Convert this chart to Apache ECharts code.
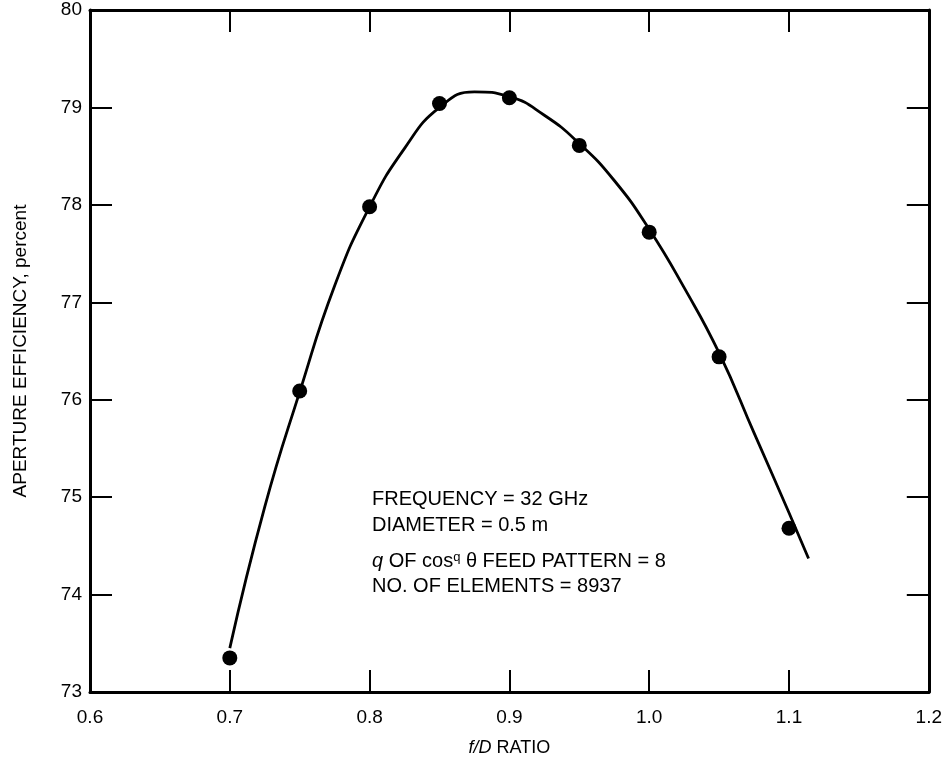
<!DOCTYPE html>
<html>
<head>
<meta charset="utf-8">
<script src="https://cdn.jsdelivr.net/npm/echarts@6/dist/echarts.min.js"></script>
<style>
  html, body { margin: 0; padding: 0; background: #fff; }
  #chart { width: 945px; height: 767px; }
</style>
</head>
<body>
<div id="chart"></div>
<script>
// measured points (f/D ratio vs aperture efficiency, %)
const ratioPoints = [0.70, 0.75, 0.80, 0.85, 0.90, 0.95, 1.00, 1.05, 1.10];
const efficiencyPoints = [73.35, 76.09, 77.98, 79.04, 79.10, 78.61, 77.72, 76.44, 74.68];

// fitted curve
const curveRatio = [0.700, 0.725, 0.750, 0.775, 0.800, 0.825, 0.850, 0.875, 0.900,
                    0.925, 0.950, 0.975, 1.000, 1.025, 1.050, 1.075, 1.100, 1.114];
const curveEff = [73.45, 74.90, 76.08, 77.17, 77.98, 78.58, 79.00, 79.16, 79.11,
                  78.92, 78.63, 78.25, 77.75, 77.15, 76.48, 75.66, 74.84, 74.37];

const xTicks = { min: 0.6, max: 1.2, step: 0.1 };
const yTicks = { min: 73, max: 80, step: 1 };

const notes = [
  'FREQUENCY = 32 GHz',
  'DIAMETER = 0.5 m',
  '{i|q} OF cos{s|q} \u03b8 FEED PATTERN = 8',
  'NO. OF ELEMENTS = 8937'
];
const noteY = [500, 526, 562, 587];

const font = 'Liberation Sans, Arial, Helvetica, sans-serif';
const chart = echarts.init(document.getElementById('chart'));

function xAxisCfg(pos, showLabel) {
  return {
    type: 'value', position: pos,
    min: xTicks.min, max: xTicks.max, interval: xTicks.step,
    axisLine: { show: true, onZero: false, lineStyle: { color: '#000', width: 3 } },
    axisTick: { show: true, inside: true, length: 22, lineStyle: { color: '#000', width: 2 } },
    axisLabel: {
      show: showLabel, color: '#000', fontSize: 19, fontFamily: font, margin: 16,
      formatter: v => v.toFixed(1)
    },
    splitLine: { show: false }
  };
}
function yAxisCfg(pos, showLabel) {
  return {
    type: 'value', position: pos,
    min: yTicks.min, max: yTicks.max, interval: yTicks.step,
    axisLine: { show: true, onZero: false, lineStyle: { color: '#000', width: 3 } },
    axisTick: { show: true, inside: true, length: 22, lineStyle: { color: '#000', width: 2 } },
    axisLabel: { show: showLabel, color: '#000', fontSize: 19, fontFamily: font, margin: 8 },
    splitLine: { show: false }
  };
}

const xBottom = xAxisCfg('bottom', true);
xBottom.name = '{i|f/D} RATIO';
xBottom.nameLocation = 'middle';
xBottom.nameGap = 47;
xBottom.nameTextStyle = {
  color: '#000', fontSize: 18, fontFamily: font,
  rich: { i: { fontStyle: 'italic', fontSize: 18, fontFamily: font, color: '#000' } }
};

const yLeft = yAxisCfg('left', true);
yLeft.name = 'APERTURE EFFICIENCY, percent';
yLeft.nameLocation = 'middle';
yLeft.nameRotate = 90;
yLeft.nameGap = 60;
yLeft.nameTextStyle = { color: '#000', fontSize: 19, fontFamily: font };

const option = {
  animation: false,
  backgroundColor: '#fff',
  grid: { left: 90, right: 9, top: 10, bottom: 75, containLabel: false },
  xAxis: [xBottom, xAxisCfg('top', false)],
  yAxis: [yLeft, yAxisCfg('right', false)],
  series: [
    {
      type: 'line',
      data: curveRatio.map((r, i) => [r, curveEff[i]]),
      smooth: 0.5,
      showSymbol: false,
      lineStyle: { color: '#000', width: 2.8 }
    },
    {
      type: 'scatter',
      data: ratioPoints.map((r, i) => [r, efficiencyPoints[i]]),
      symbol: 'circle',
      symbolSize: 15,
      itemStyle: { color: '#000', opacity: 1 }
    }
  ],
  graphic: notes.map((t, i) => ({
    type: 'text',
    left: 372,
    top: noteY[i] - 11,
    style: {
      text: t,
      fill: '#000',
      font: '20px ' + font,
      rich: {
        i: { fontStyle: 'italic', fontSize: 20, fontFamily: font, fill: '#000' },
        s: { fontSize: 13, fontFamily: font, fill: '#000', verticalAlign: 'top', padding: [0, 0, 8, 0] }
      }
    }
  }))
};

chart.setOption(option);
</script>
</body>
</html>
